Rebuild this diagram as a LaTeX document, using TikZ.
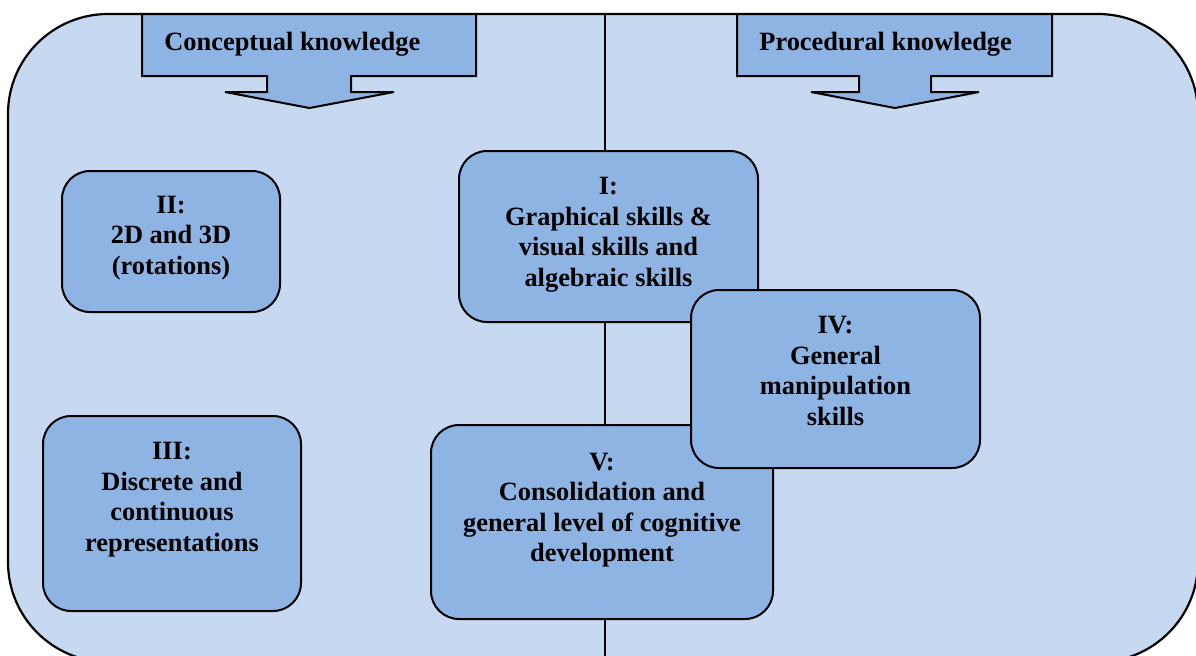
\documentclass[tikz,border=0pt]{standalone}
\usepackage{fontspec}
\setmainfont{Liberation Serif}
\definecolor{outerfill}{HTML}{C6D9F1}
\definecolor{boxfill}{HTML}{8EB4E3}
\begin{document}
\begin{tikzpicture}[x=0.5pt,y=-0.5pt,
  box/.style={draw=black, line width=1pt, fill=boxfill, rounded corners=14pt, inner sep=0pt},
  txt/.style={align=center, inner sep=0pt, font=\fontsize{13.2pt}{15.25pt}\selectfont\bfseries},
  banner/.style={draw=black, line width=1pt, fill=boxfill, line join=miter},
  ttl/.style={inner sep=0pt, font=\fontsize{13.2pt}{15.25pt}\selectfont\bfseries, anchor=base west},
  divider/.style={draw=black, line width=1pt}]
\useasboundingbox (0,0) rectangle (1196,655);
\clip (0,0) rectangle (1196,655);
% outer panel
\draw[line width=1.1pt, fill=outerfill, rounded corners=50pt] (8,14) rectangle (1198,662);
% vertical divider
\coordinate (vtop) at (605,14);
\coordinate (vbot) at (605,662);
\draw[divider] (vtop) -- (vbot);
% banners
\draw[banner] (142,14) -- (476,14) -- (476,76) -- (351,76) -- (351,92) -- (394,92) -- (309.5,108)
  -- (225,92) -- (267,92) -- (267,76) -- (142,76) -- cycle;
\draw[banner] (737,14) -- (1052,14) -- (1052,76) -- (931,76) -- (931,92) -- (979,92) -- (895,108)
  -- (811,92) -- (859,92) -- (859,76) -- (737,76) -- cycle;
\node[ttl] (tc) at (164,50) {Conceptual knowledge};
\node[ttl] (tp) at (759,50) {Procedural knowledge};
% boxes
\node[box, minimum width=109pt, minimum height=70.5pt] (b2) at (171,241.5) {};
\node[txt, anchor=north] (t2) at ([yshift=-12.8pt]b2.north) {II:\\2D and 3D\\(rotations)};
\node[box, minimum width=129pt, minimum height=97.5pt] (b3) at (172,513.5) {};
\node[txt, anchor=north] (t3) at ([yshift=-13.5pt]b3.north) {III:\\Discrete and\\continuous\\representations};
\node[box, minimum width=149.5pt, minimum height=85.5pt] (b1) at (608.5,236.5) {};
\node[txt, anchor=north] (t1) at ([yshift=-13.5pt]b1.north) {I:\\Graphical skills \&\\visual skills and\\algebraic skills};
\node[box, minimum width=171pt, minimum height=97pt] (b5) at (602,522) {};
\node[txt, anchor=north] (t5) at ([yshift=-14.3pt]b5.north) {V:\\Consolidation and\\general level of cognitive\\development};
\node[box, minimum width=144.5pt, minimum height=89pt] (b4) at (835.5,379) {};
\node[txt, anchor=north] (t4) at ([yshift=-13.5pt]b4.north) {IV:\\General\\manipulation\\skills};
\end{tikzpicture}
\end{document}
